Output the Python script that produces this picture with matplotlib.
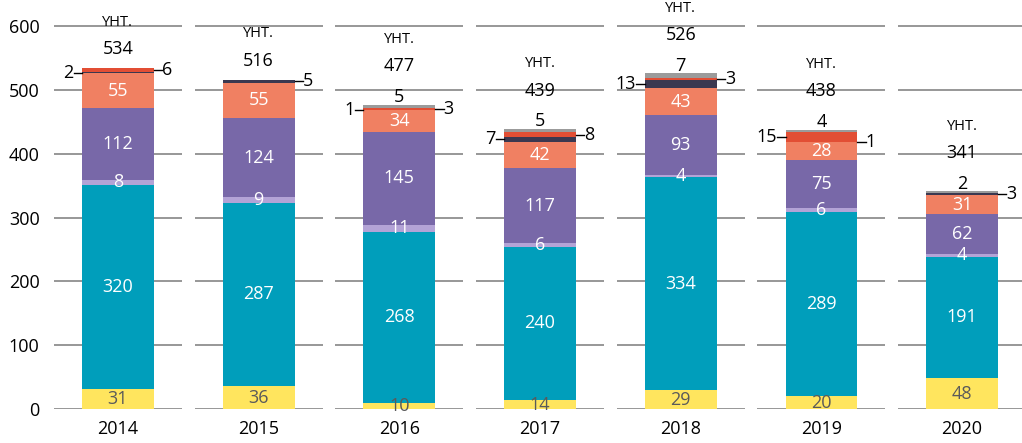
import numpy as np
import matplotlib.pyplot as plt

plt.rcParams['font.family'] = ['Open Sans', 'DejaVu Sans']

# data
years = ['2014', '2015', '2016', '2017', '2018', '2019', '2020']
yellow = [31, 36, 10, 14, 29, 20, 48]
teal = [320, 287, 268, 240, 334, 289, 191]
lavender = [8, 9, 11, 6, 4, 6, 4]
purple = [112, 124, 145, 117, 93, 75, 62]
salmon = [55, 55, 34, 42, 43, 28, 31]
navy = [2, 5, 1, 7, 13, 1, 3]
red = [6, 0, 3, 8, 3, 15, 0]
gray = [0, 0, 5, 5, 7, 4, 2]
totals = [534, 516, 477, 439, 526, 438, 341]
# which side the small values are written on
navy_side = ['left', 'right', 'left', 'left', 'left', 'right', 'right']
red_side = ['right', 'right', 'right', 'right', 'right', 'left', 'right']

series = [yellow, teal, lavender, purple, salmon, navy, red, gray]
colors = ['#FFE55E', '#009EBB', '#B3A3D6', '#7868A8', '#F08062',
          '#3B3850', '#E24E34', '#9B9B9B']
text_cols = ['#5a5a5a', 'white', 'white', 'white', 'white', None, None, None]

fig = plt.figure(figsize=(10.22, 4.43), dpi=100)
ax = fig.add_axes([52 / 1022, 34 / 443, 970 / 1022, 409 / 443])

x = np.arange(len(years))
w = 0.51
ax.set_xlim(-0.469, 6.426)
ax.set_ylim(0, 641)

# segmented gridlines, one piece per year
for xi in x:
    for yv in range(0, 700, 100):
        ax.plot([xi - 0.455, xi + 0.455], [yv, yv], color='#8f8f8f',
                lw=1.3, zorder=1, solid_capstyle='butt')

bottom = np.zeros(len(years))
for vals, col, tcol in zip(series, colors, text_cols):
    vals = np.array(vals, dtype=float)
    ax.bar(x, vals, w, bottom=bottom, color=col, zorder=2, linewidth=0)
    if tcol is not None:
        for xi, b, v in zip(x, bottom, vals):
            ax.text(xi, b + v / 2, f'{int(v)}', ha='center', va='center',
                    color=tcol, fontsize=13, zorder=4)
    bottom += vals

# small values with leader stubs
base = np.array(yellow) + np.array(teal) + np.array(lavender) + \
    np.array(purple) + np.array(salmon)
stub = 0.06
for i, xi in enumerate(x):
    segs = [(navy[i], base[i], navy_side[i]),
            (red[i], base[i] + navy[i], red_side[i])]
    for v, b, side in segs:
        if v == 0:
            continue
        ym = b + v / 2
        if side == 'left':
            x0 = xi - w / 2
            ax.plot([x0 - stub, x0], [ym, ym], color='black', lw=1, zorder=3)
            ax.text(x0 - stub, ym, str(v), ha='right', va='center',
                    fontsize=13, zorder=4)
        else:
            x0 = xi + w / 2
            ax.plot([x0, x0 + stub], [ym, ym], color='black', lw=1, zorder=3)
            ax.text(x0 + stub, ym, str(v), ha='left', va='center',
                    fontsize=13, zorder=4)

# gray value on top, totals and YHT.
for i, xi in enumerate(x):
    top = bottom[i]
    if gray[i] > 0:
        ax.text(xi, top + 12, str(gray[i]), ha='center', va='center',
                fontsize=13, zorder=4)
        ty = top + 60
    else:
        ty = top + 30
    ax.text(xi, ty, str(totals[i]), ha='center', va='center',
            fontsize=13, zorder=4)
    ax.text(xi, ty + 42, 'YHT.', ha='center', va='center',
            fontsize=10.5, zorder=4)

ax.set_xticks(x)
ax.set_xticklabels(years, fontsize=13)
ax.set_yticks(range(0, 700, 100))
ax.tick_params(axis='both', length=0, labelsize=13)
ax.tick_params(axis='y', pad=9)
ax.tick_params(axis='x', pad=8)
for s in ax.spines.values():
    s.set_visible(False)

fig.savefig('out.png', dpi=100)
